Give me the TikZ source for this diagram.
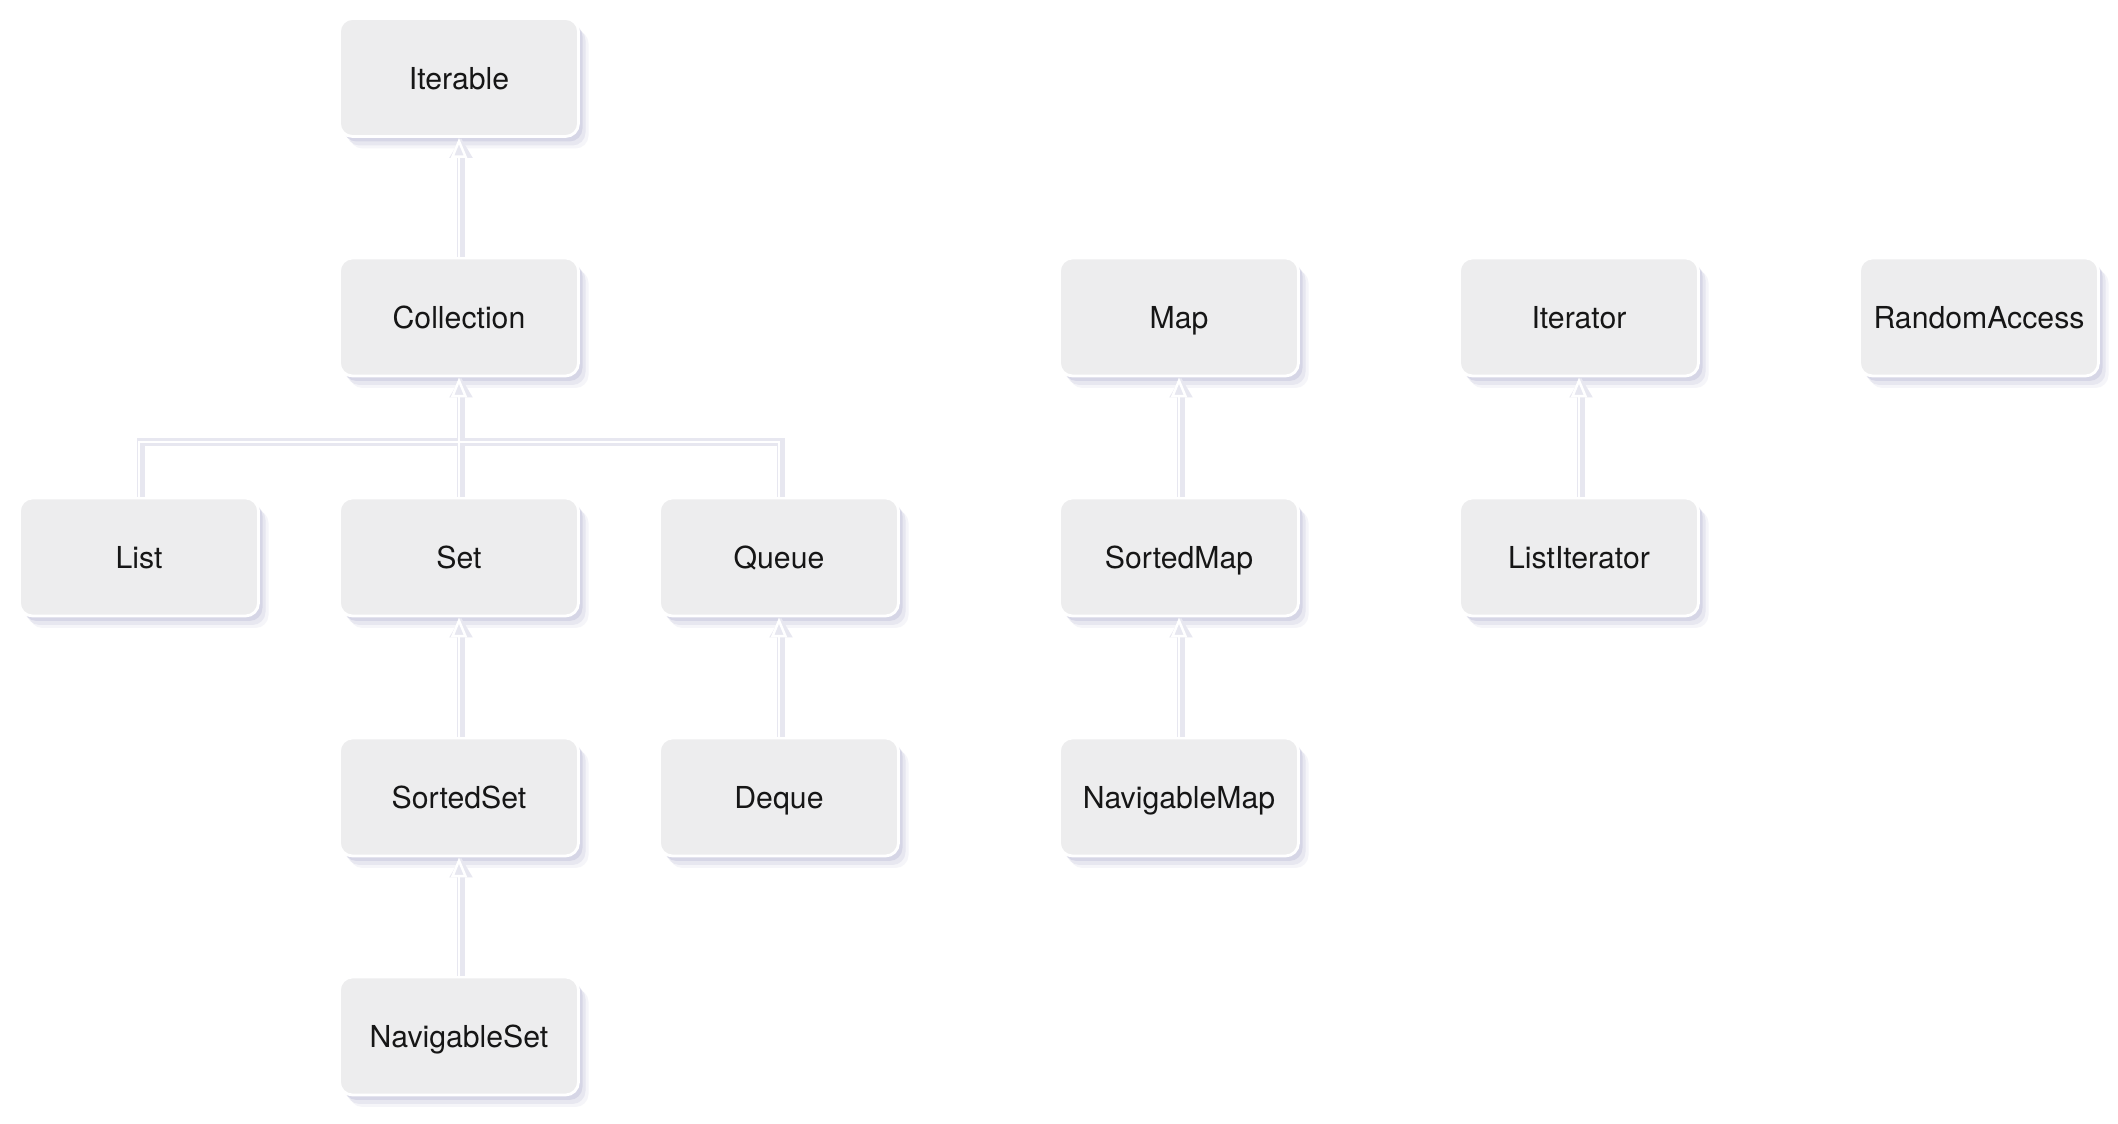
\documentclass[tikz,border=0pt]{standalone}
\usepackage{fontspec}
\setmainfont{TeX Gyre Heros}
\usetikzlibrary{shadows,arrows.meta}

\definecolor{boxgray}{RGB}{237,237,238}
\definecolor{shadelav}{RGB}{190,190,215}
\definecolor{lineshade}{RGB}{231,231,240}
\definecolor{txt}{RGB}{22,22,22}

\tikzset{
  iface/.style={rectangle, rounded corners=0.13cm, minimum width=2.39cm, minimum height=1.18cm,
    fill=boxgray, draw=white, line width=0.8pt, text=txt, font=\fontsize{8.6}{10}\selectfont,
    text height=1.55ex, text depth=0.25ex,
    drop shadow={shadow xshift=0.1cm, shadow yshift=-0.12cm, fill=shadelav, opacity=0.15},
    drop shadow={shadow xshift=0.07cm, shadow yshift=-0.09cm, fill=shadelav, opacity=0.25},
    drop shadow={shadow xshift=0.04cm, shadow yshift=-0.05cm, fill=shadelav, opacity=0.4}},
  linkshade/.style={draw=lineshade, line width=2.4pt, transform canvas={xshift=0.02cm}},
  tipshade/.style={linkshade, -{Triangle[length=0.2cm,width=0.22cm]}},
  inherit/.style={draw=white, line width=0.7pt, -{Triangle[open,length=0.2cm,width=0.16cm]}},
  bus/.style={draw=white, line width=0.7pt},
}

\begin{document}
\begin{tikzpicture}
			%%%%% START %%%%%
			\useasboundingbox[fill=white] (0,0) rectangle (21.18,-11.24);
			
			% collection tree
			\node[iface] (iterable) at (4.59,-0.775) {Iterable};
			\node[iface] (coll) at (4.59,-3.17) {Collection};
			\node[iface] (list) at (1.39,-5.57) {List};
			\node[iface] (set) at (4.59,-5.57) {Set};
			\node[iface] (queue) at (7.79,-5.57) {Queue};
			\node[iface] (sortedset) at (4.59,-7.97) {SortedSet};
			\node[iface] (deque) at (7.79,-7.97) {Deque};
			\node[iface] (navset) at (4.59,-10.36) {NavigableSet};
			
			% maps
			\node[iface] (map) at (11.79,-3.17) {Map};
			\node[iface] (sortedmap) at (11.79,-5.57) {SortedMap};
			\node[iface] (navmap) at (11.79,-7.97) {NavigableMap};
			
			% iterators
			\node[iface] (iterator) at (15.79,-3.17) {Iterator};
			\node[iface] (listiter) at (15.79,-5.57) {ListIterator};
			
			\node[iface] (randacc) at (19.79,-3.17) {RandomAccess};
			
			\coordinate (busmid) at (4.59,-4.42);
			
			% line shadows
			\draw[tipshade] (coll.north) -- (iterable.south);
			\draw[tipshade] (set.north) -- (coll.south);
			\draw[linkshade] (list.north) |- (busmid) -| (queue.north);
			\draw[tipshade] (sortedset.north) -- (set.south);
			\draw[tipshade] (navset.north) -- (sortedset.south);
			\draw[tipshade] (deque.north) -- (queue.south);
			\draw[tipshade] (sortedmap.north) -- (map.south);
			\draw[tipshade] (navmap.north) -- (sortedmap.south);
			\draw[tipshade] (listiter.north) -- (iterator.south);
			
			% inheritance
			\draw[inherit] (coll.north) -- (iterable.south);
			\draw[inherit] (set.north) -- (coll.south);
			\draw[bus] (list.north) |- (busmid) -| (queue.north);
			\draw[inherit] (sortedset.north) -- (set.south);
			\draw[inherit] (navset.north) -- (sortedset.south);
			\draw[inherit] (deque.north) -- (queue.south);
			\draw[inherit] (sortedmap.north) -- (map.south);
			\draw[inherit] (navmap.north) -- (sortedmap.south);
			\draw[inherit] (listiter.north) -- (iterator.south);
			
			%%%%% END %%%%%
\end{tikzpicture}
\end{document}
